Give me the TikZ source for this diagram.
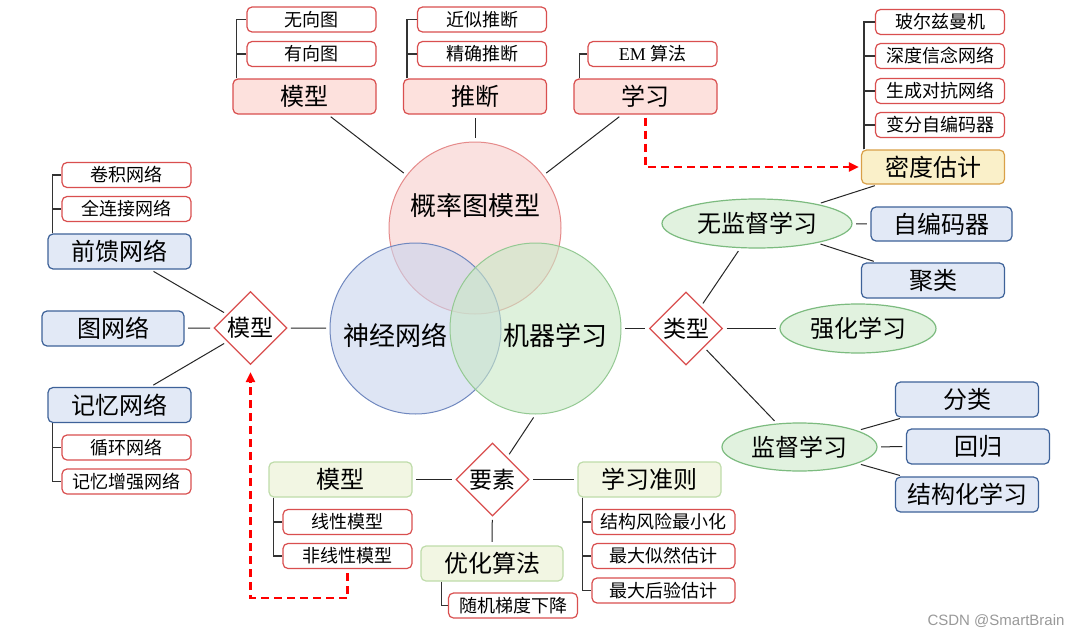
\documentclass[tikz,border=0pt]{standalone}
\usepackage{fontspec}
\newfontfamily\cjk{Noto Sans CJK SC}
\newfontfamily\tnr{Liberation Serif}
\newfontfamily\wmfont{Liberation Sans}
\usetikzlibrary{shapes.geometric,arrows.meta,calc}
\definecolor{redline}{HTML}{D94F4F}
\definecolor{pinkfill}{HTML}{FDE1DD}
\definecolor{blueline}{HTML}{3E6299}
\definecolor{bluefill}{HTML}{E2E9F6}
\definecolor{gline}{HTML}{BFDCAA}
\definecolor{gfill}{HTML}{F2F6E3}
\definecolor{yline}{HTML}{D9A048}
\definecolor{yfill}{HTML}{FAF0C9}
\definecolor{ellline}{HTML}{7CBB7F}
\definecolor{ellfill}{HTML}{E1F2DF}
\definecolor{crfill}{HTML}{F8CECC}
\definecolor{crline}{HTML}{E58A8A}
\definecolor{cbfill}{HTML}{C9D5EE}
\definecolor{cbline}{HTML}{7088BF}
\definecolor{cgfill}{HTML}{C9E8C6}
\definecolor{cgline}{HTML}{94C993}
\begin{document}
\begin{tikzpicture}[x=1pt,y=-1pt,
  box/.style={draw, rounded corners=5pt, inner sep=0pt, line width=1.2pt},
  bigbox/.style={box, minimum width=143pt, minimum height=35pt, font=\cjk\fontsize{24}{26}\selectfont},
  smallbox/.style={box, draw=redline, fill=white, minimum width=129pt, minimum height=25pt, font=\cjk\fontsize{18}{20}\selectfont},
  pinkbox/.style={bigbox, draw=redline, fill=pinkfill},
  bluebox/.style={bigbox, draw=blueline, fill=bluefill},
  greenbox/.style={bigbox, draw=gline, fill=gfill},
  yellowbox/.style={bigbox, draw=yline, fill=yfill},
  dia/.style={diamond, draw=redline, fill=white, minimum width=73pt, minimum height=73pt, inner sep=0pt, line width=1.2pt, font=\cjk\fontsize{23}{25}\selectfont},
  ell/.style={ellipse, draw=ellline, fill=ellfill, inner sep=0pt, line width=1.2pt, font=\cjk\fontsize{24}{26}\selectfont},
  venn/.style={circle, inner sep=0pt, line width=1pt, fill opacity=0.6},
  circtext/.style={font=\cjk\fontsize{26}{28}\selectfont, inner sep=0pt},
  conn/.style={draw=black!85, line width=1pt, shorten <=3.5pt, shorten >=3.5pt},
  tree/.style={draw=black!80, line width=1.5pt},
  dasharrow/.style={draw=red, line width=2.2pt, dash pattern=on 8pt off 5pt, -{Triangle[length=10pt,width=9pt]}}
]
\useasboundingbox (0,0) rectangle (1080,637);
\fill[white] (0,0) rectangle (1080,637);

% Venn circles
\node[venn, minimum size=172pt, draw=crline, fill=crfill] (cr) at (475,228) {};
\node[venn, minimum size=171pt, draw=cbline, fill=cbfill] (cb) at (415.5,328.5) {};
\node[venn, minimum size=171pt, draw=cgline, fill=cgfill] (cg) at (535.5,328.5) {};
\node[circtext] (tcr) at (475,206) {概率图模型};
\node[circtext] (tcb) at (395,335) {神经网络};
\node[circtext] (tcg) at (555,335) {机器学习};

% top
\node[pinkbox] (tm) at (304.5,96.5) {模型};
\node[smallbox] (tm1) at (311.5,19.5) {无向图};
\node[smallbox] (tm2) at (311.5,54) {有向图};
\node[pinkbox] (ti) at (475,96.5) {推断};
\node[smallbox] (ti1) at (482,19.5) {近似推断};
\node[smallbox] (ti2) at (482,54) {精确推断};
\node[pinkbox] (tx) at (645.5,96.5) {学习};
\node[smallbox] (tx1) at (652.5,54) {{\tnr EM} 算法};

% right top
\node[yellowbox, minimum height=34pt] (de) at (933,167) {密度估计};
\node[smallbox] (d1) at (940,22) {玻尔兹曼机};
\node[smallbox] (d2) at (940,56) {深度信念网络};
\node[smallbox] (d3) at (940,91) {生成对抗网络};
\node[smallbox] (d4) at (940,125) {变分自编码器};

% right
\node[ell, minimum width=190pt, minimum height=49pt] (un) at (757,223.5) {无监督学习};
\node[bluebox, minimum width=141pt, minimum height=34pt] (ae) at (941.5,224) {自编码器};
\node[bluebox] (jl) at (933,280.5) {聚类};
\node[dia] (lx) at (686,328.5) {类型};
\node[ell, minimum width=156pt, minimum height=49pt] (qh) at (858,328.5) {强化学习};
\node[ell, minimum width=155pt, minimum height=48pt] (sv) at (799.5,447) {监督学习};
\node[bluebox] (fl) at (967,399.5) {分类};
\node[bluebox] (hg) at (978,446.5) {回归};
\node[bluebox] (jg) at (967,494.5) {结构化学习};

% left
\node[bluebox] (qk) at (119.5,251.5) {前馈网络};
\node[smallbox] (q1) at (126.5,175) {卷积网络};
\node[smallbox] (q2) at (126.5,209) {全连接网络};
\node[bluebox, minimum width=142pt] (tw) at (113,328.5) {图网络};
\node[dia] (lm) at (250.5,328) {模型};
\node[bluebox] (jy) at (119.5,405) {记忆网络};
\node[smallbox] (j1) at (126.5,447.5) {循环网络};
\node[smallbox] (j2) at (126.5,481.5) {记忆增强网络};

% bottom
\node[greenbox] (bm) at (340.5,479.5) {模型};
\node[smallbox] (b1) at (347.5,522) {线性模型};
\node[smallbox] (b2) at (347.5,556) {非线性模型};
\node[dia] (ys) at (492.5,479.5) {要素};
\node[greenbox] (gz) at (649.5,479.5) {学习准则};
\node[smallbox, minimum width=143pt] (g1) at (663.5,522) {结构风险最小化};
\node[smallbox, minimum width=143pt] (g2) at (663.5,556) {最大似然估计};
\node[smallbox, minimum width=143pt] (g3) at (663.5,590.5) {最大后验估计};
\node[greenbox, minimum width=142pt] (yh) at (492,563.5) {优化算法};
\node[smallbox] (y1) at (513,605.5) {随机梯度下降};

% tree connectors
\draw[tree] ([xshift=4pt]tm.north west) |- (tm1.west);
\draw[tree] ([xshift=4pt]tm.north west) |- (tm2.west);
\draw[tree] ([xshift=4pt]ti.north west) |- (ti1.west);
\draw[tree] ([xshift=4pt]ti.north west) |- (ti2.west);
\draw[tree] ([xshift=6pt]tx.north west) |- (tx1.west);
\foreach \c in {d1,d2,d3,d4} \draw[tree] ([xshift=3pt]de.north west) |- (\c.west);
\draw[tree] ([xshift=5pt]qk.north west) |- (q1.west);
\draw[tree] ([xshift=5pt]qk.north west) |- (q2.west);
\draw[tree] ([xshift=5pt]jy.south west) |- (j1.west);
\draw[tree] ([xshift=5pt]jy.south west) |- (j2.west);
\draw[tree] ([xshift=5pt]bm.south west) |- (b1.west);
\draw[tree] ([xshift=5pt]bm.south west) |- (b2.west);
\foreach \c in {g1,g2,g3} \draw[tree] ([xshift=5pt]gz.south west) |- (\c.west);
\draw[tree] ([xshift=21pt]yh.south west) |- (y1.west);

% connectors
\draw[conn] (tm) -- (cr);
\draw[conn] (ti) -- (cr);
\draw[conn] (tx) -- (cr);
\draw[conn] (de) -- (un);
\draw[conn] (un) -- (ae);
\draw[conn] (un) -- (jl);
\draw[conn] (cg) -- (lx);
\draw[conn] (lx) -- (un);
\draw[conn] (lx) -- (qh);
\draw[conn] (lx) -- (sv);
\draw[conn] (sv) -- (fl);
\draw[conn] (sv) -- (hg);
\draw[conn] (sv) -- (jg);
\draw[conn] (qk) -- (lm);
\draw[conn] (tw) -- (lm);
\draw[conn] (jy) -- (lm);
\draw[conn] (lm) -- (cb);
\draw[conn] (cg.south) -- (ys);
\draw[conn] (bm) -- (ys);
\draw[conn] (ys) -- (gz);
\draw[conn] (ys) -- (yh);

% dashed arrows
\draw[dasharrow, shorten <=3pt, shorten >=2pt] (tx.south) |- (de.west);
\draw[dasharrow, shorten <=4pt, shorten >=7pt] (b2.south) -- ++(0,29) -| (lm.south);

% watermark
\node[font=\wmfont\fontsize{15}{17}\selectfont, text=black!40, inner sep=0pt] (wm) at (996,621) {CSDN @SmartBrain};
\end{tikzpicture}
\end{document}
